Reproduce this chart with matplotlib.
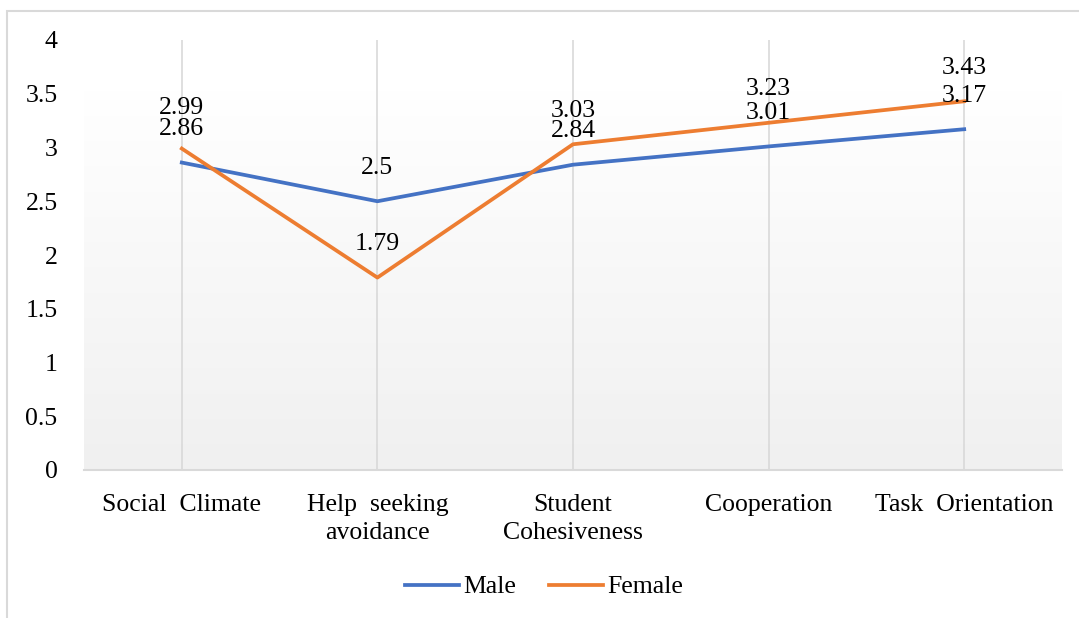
import numpy as np
import matplotlib
matplotlib.use("Agg")
import matplotlib.pyplot as plt
from matplotlib.patches import Rectangle

# data
categories = ["Social  Climate", "Help  seeking\navoidance", "Student\nCohesiveness",
              "Cooperation", "Task  Orientation"]
male = [2.86, 2.5, 2.84, 3.01, 3.17]
female = [2.99, 1.79, 3.03, 3.23, 3.43]
y_ticks = [0, 0.5, 1, 1.5, 2, 2.5, 3, 3.5, 4]
y_tick_labels = ["0", "0.5", "1", "1.5", "2", "2.5", "3", "3.5", "4"]

plt.rcParams['font.family'] = ['Liberation Serif', 'DejaVu Serif']
fs = 18.5

fig = plt.figure(figsize=(10.79, 6.18), dpi=100)
ax = fig.add_axes([84 / 1079, 1 - 470 / 618, (1062 - 84) / 1079, 430 / 618])

# outer chart frame (only left and top edges are visible)
fig.patches.append(Rectangle((7 / 1079, -0.1), 1.2, 1 - 11 / 618 + 0.1,
                             transform=fig.transFigure, fill=False,
                             edgecolor='#d9d9d9', lw=1.5))

x = np.arange(len(categories))

# gradient plot area
grad = np.linspace(0, 1, 256).reshape(-1, 1)
ax.imshow(grad, extent=(-0.5, 4.5, 0, 3.53), origin='lower', aspect='auto',
          cmap=matplotlib.colors.LinearSegmentedColormap.from_list('g', ['#f0f0f0', '#ffffff']),
          zorder=0)

for xi in x:
    ax.axvline(xi, color='#d9d9d9', lw=1.2, zorder=1)

ax.plot(x, male, color='#4472C4', lw=2.7, label='Male', zorder=3)
ax.plot(x, female, color='#ED7D31', lw=2.7, label='Female', zorder=3)

for xi, m, f in zip(x, male, female):
    ax.annotate(f"{m:g}", (xi, m), xytext=(0, 24), textcoords='offset points',
                ha='center', va='center', fontsize=fs, zorder=4)
    # nudge the upper label a little when the two values sit close together
    extra = 5 if abs(f - m) < 0.15 else 0
    ax.annotate(f"{f:g}", (xi, f), xytext=(0, 24 + extra), textcoords='offset points',
                ha='center', va='center', fontsize=fs, zorder=4)

ax.set_xlim(-0.5, 4.5)
ax.set_ylim(0, 4)
ax.set_yticks(y_ticks)
ax.set_yticklabels(y_tick_labels, fontsize=fs)
ax.set_xticks(x)
ax.set_xticklabels(categories, fontsize=fs, linespacing=1.4)
ax.tick_params(axis='y', length=0, pad=19)
ax.tick_params(axis='x', length=0, pad=17)

for s in ['top', 'right', 'left']:
    ax.spines[s].set_visible(False)
ax.spines['bottom'].set_color('#d9d9d9')
ax.spines['bottom'].set_linewidth(1.5)
ax.set_facecolor('white')

fig.legend(loc='center', bbox_to_anchor=(544 / 1079, 1 - 587 / 618), ncol=2,
           frameon=False, fontsize=fs, handlelength=2.1, handletextpad=0.15,
           columnspacing=1.3)

fig.savefig("out.png", dpi=100)
